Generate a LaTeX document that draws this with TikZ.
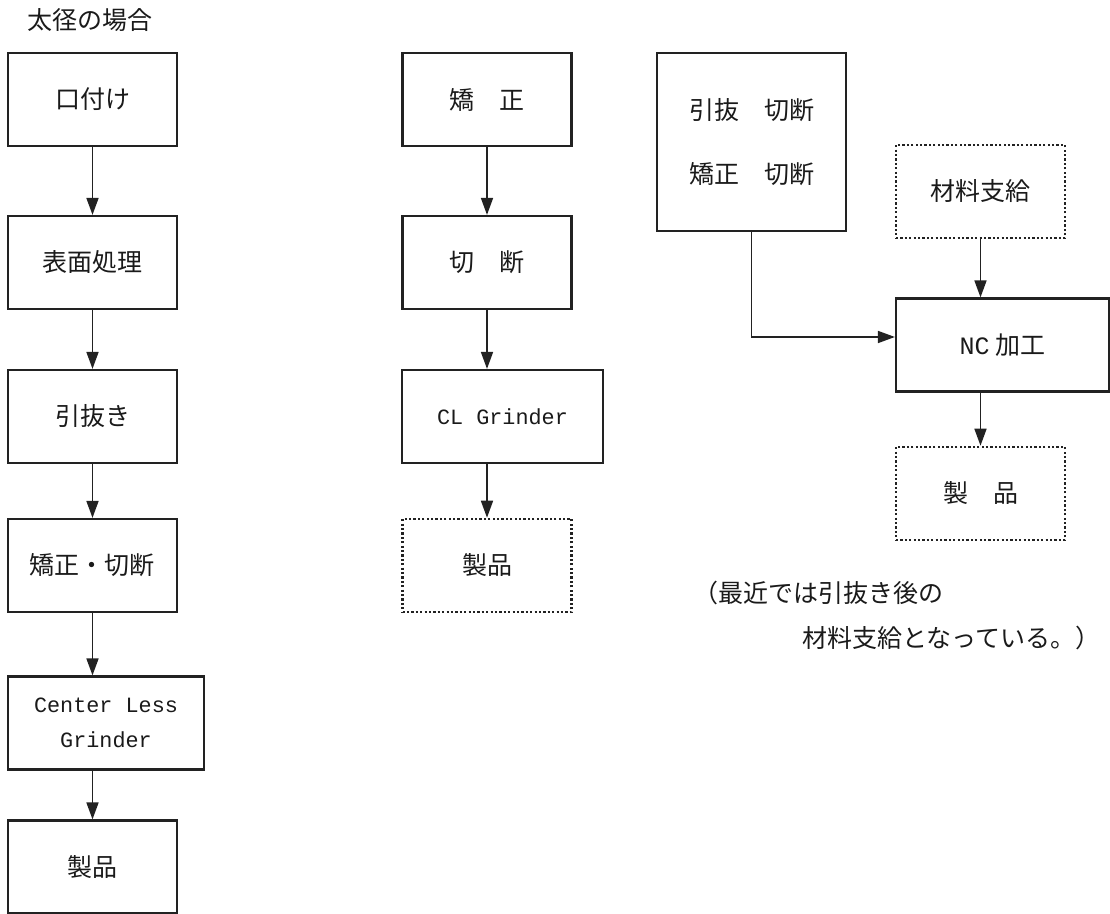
\documentclass[tikz,border=0pt]{standalone}
\usepackage{fontspec}
\setmainfont{Noto Sans CJK JP}
\newfontfamily\monofont{Liberation Mono}
\usepackage{tikz}
\usetikzlibrary{positioning, arrows.meta, calc}
\definecolor{cLine}{HTML}{222222}
\definecolor{cText}{HTML}{1A1A1A}

\tikzset{
  procbox/.style={draw=cLine, line width=1.1pt, minimum width=84.5pt,
    minimum height=46.5pt, inner sep=0pt, text=cText,
    font=\fontsize{12.5pt}{15pt}\selectfont},
  supplybox/.style={procbox, line width=1.3pt, dash pattern=on 1.1pt off 1.1pt},
  flow/.style={draw=cLine, line width=0.85pt, -{Triangle[length=8.5pt,width=6pt]}},
  notetext/.style={text=cText, inner sep=0pt, font=\fontsize{12.5pt}{15pt}\selectfont},
}

\begin{document}
\begin{tikzpicture}[x=0.5pt, y=-0.5pt]
  \useasboundingbox (0,0) rectangle (1110,914);
  % heading
  \node[notetext, anchor=west] (title) at (27,20) {太径の場合};

  % column 1: large diameter line
  \foreach \nm/\yy/\txt in {kuchi/99.5/口付け, hyomen/262.5/表面処理,
      hikinuki/416.5/引抜き, kyosei/565.5/矯正・切断, seihinA/867/製品}{
    \node[procbox] (\nm) at (92.5,\yy) {\txt};
  }
  \node[procbox, minimum width=98pt, align=center,
        font=\monofont\fontsize{10.9pt}{17.5pt}\selectfont]
      (clg) at (106,723) {Center Less\\Grinder};
  \foreach \a/\b in {kuchi/hyomen, hyomen/hikinuki, hikinuki/kyosei}{
    \draw[flow] (\a) -- (\b);
  }
  \draw[flow] (kyosei.south) -- (kyosei.south |- clg.north);
  \draw[flow] (kyosei.south |- clg.south) -- (seihinA.north);

  % column 2
  \node[procbox] (kyoseiB) at (487,99.5) {矯　正};
  \node[procbox] (setsudan) at (487,262.5) {切　断};
  \node[procbox, minimum width=100.5pt,
        font=\monofont\fontsize{10.9pt}{15pt}\selectfont]
      (clgB) at (502.5,416.5) {CL Grinder};
  \node[supplybox] (seihinB) at (487,565.5) {製品};
  \draw[flow] (kyoseiB) -- (setsudan);
  \draw[flow] (setsudan.south) -- (setsudan.south |- clgB.north);
  \draw[flow] (setsudan.south |- clgB.south) -- (seihinB.north);

  % column 3: NC route
  \node[procbox, minimum width=94.5pt, minimum height=89pt, align=center,
        font=\fontsize{12.5pt}{32pt}\selectfont]
      (hikisetsu) at (751.5,142) {引抜　切断\\矯正　切断};
  \node[supplybox] (zairyo) at (980.5,191.5) {材料支給};
  \node[procbox, minimum width=106.5pt] (nc) at (1002.5,345) {{\monofont NC} 加工};
  \node[supplybox] (seihinC) at (980.5,493.5) {製　品};
  \draw[flow] (hikisetsu.south) |- ([yshift=4pt]nc.west);
  \draw[flow] (zairyo.south) -- (zairyo.south |- nc.north);
  \draw[flow] (zairyo.south |- nc.south) -- (seihinC.north);

  % remark
  \node[notetext, anchor=west] (note1) at (693,593) {（最近では引抜き後の};
  \node[notetext, anchor=west] (note2) at (802,638) {材料支給となっている。）};
\end{tikzpicture}
\end{document}
